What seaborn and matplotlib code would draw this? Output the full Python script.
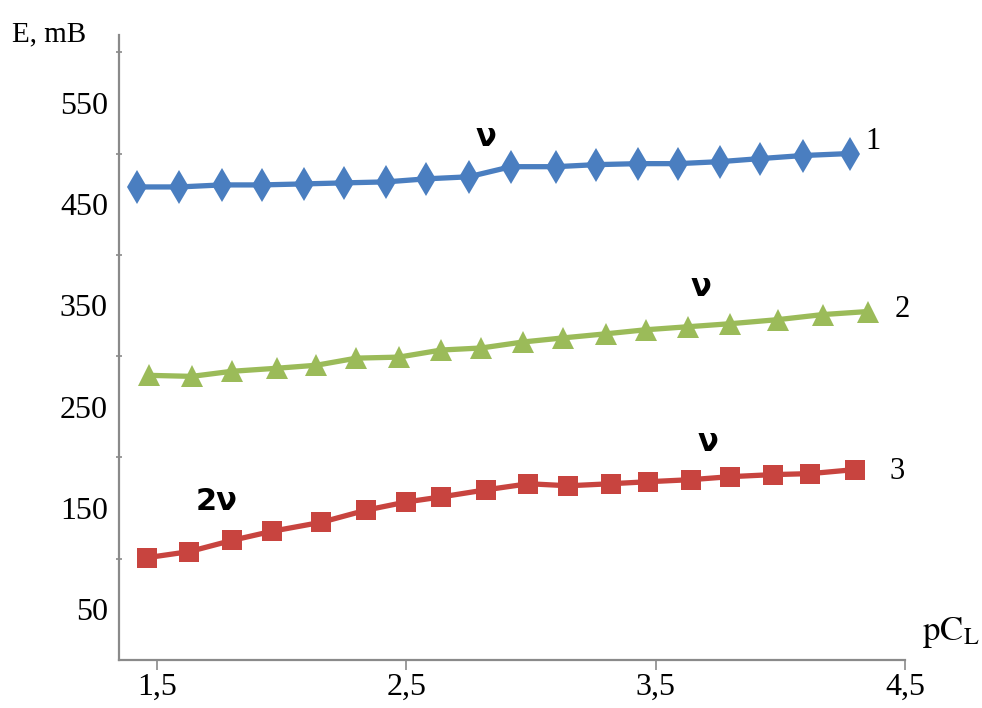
import matplotlib
matplotlib.use("Agg")
import matplotlib.pyplot as plt
import seaborn as sns
import pandas as pd

# ---- data ----
x1 = [1.42, 1.59, 1.76, 1.92, 2.09, 2.25, 2.42, 2.58, 2.75, 2.92,
      3.10, 3.26, 3.43, 3.59, 3.76, 3.92, 4.09, 4.28]
e1 = [467, 467, 469, 469, 470, 471, 472, 475, 477, 487,
      487, 489, 490, 490, 492, 495, 498, 500]

x2 = [1.47, 1.64, 1.80, 1.98, 2.14, 2.30, 2.47, 2.64, 2.80, 2.97,
      3.13, 3.30, 3.46, 3.63, 3.80, 3.99, 4.17, 4.35]
e2 = [281, 280, 285, 288, 291, 298, 299, 306, 308, 314,
      318, 322, 326, 329, 332, 336, 341, 344]

x3 = [1.46, 1.63, 1.80, 1.96, 2.16, 2.34, 2.50, 2.64, 2.82, 2.99,
      3.15, 3.32, 3.47, 3.64, 3.80, 3.97, 4.12, 4.30]
e3 = [101, 107, 118, 127, 136, 148, 156, 161, 168, 174,
      172, 174, 176, 178, 181, 183, 184, 188]

series_names = ["1", "2", "3"]
x_ticks = [1.5, 2.5, 3.5, 4.5]
x_tick_labels = ["1,5", "2,5", "3,5", "4,5"]
y_label_vals = [50, 150, 250, 350, 450, 550]
y_tick_marks = [100, 200, 300, 400, 500, 600]

df = pd.concat([
    pd.DataFrame({"pCL": x1, "E": e1, "curve": series_names[0]}),
    pd.DataFrame({"pCL": x2, "E": e2, "curve": series_names[1]}),
    pd.DataFrame({"pCL": x3, "E": e3, "curve": series_names[2]}),
], ignore_index=True)

sns.set_style("white")
plt.rcParams["font.family"] = ["Liberation Serif", "DejaVu Serif"]
plt.rcParams["mathtext.fontset"] = "stix"
plt.rcParams["text.color"] = "black"
plt.rcParams["xtick.labelcolor"] = "black"
plt.rcParams["ytick.labelcolor"] = "black"

fig = plt.figure(figsize=(9.82, 7.08), dpi=100)
ax = fig.add_axes([119 / 982, 1 - 660 / 708, (905 - 119) / 982, (660 - 35) / 708])

colors = {"1": "#4A7EC0", "2": "#9BBB59", "3": "#C8443F"}
markers = {"1": "d", "2": "^", "3": "s"}
msizes = {"1": 17, "2": 16, "3": 15}

for name in series_names:
    sub = df[df["curve"] == name]
    sns.lineplot(data=sub, x="pCL", y="E", ax=ax, color=colors[name],
                 marker=markers[name], markersize=msizes[name],
                 markeredgewidth=0, linewidth=3.8, legend=False,
                 estimator=None, sort=False, clip_on=False)

ax.set_xlim(1.348, 4.5)
ax.set_ylim(0, 617)

ax.set_xticks(x_ticks, labels=x_tick_labels)
ax.set_yticks(y_tick_marks, labels=[""] * len(y_tick_marks))
ax.set_yticks(y_label_vals, labels=[str(v) for v in y_label_vals], minor=True)

ax.tick_params(axis="x", which="major", direction="out", length=7, width=1.2,
               color="#8a8a8a", labelsize=23, pad=2, bottom=True)
ax.tick_params(axis="y", which="major", direction="inout", length=4, width=1.2,
               color="#8a8a8a", left=True)
ax.tick_params(axis="y", which="minor", length=0, labelsize=23, pad=8, left=True)

for s in ["top", "right"]:
    ax.spines[s].set_visible(False)
for s in ["left", "bottom"]:
    ax.spines[s].set_color("#8a8a8a")
    ax.spines[s].set_linewidth(1.6)

ax.set_xlabel("")
ax.set_ylabel("")

# curve numbers
ax.text(4.37, 512, "1", fontsize=22, ha="center", va="center")
ax.text(4.49, 346, "2", fontsize=22, ha="center", va="center", clip_on=False)
ax.text(4.47, 186, "3", fontsize=22, ha="center", va="center", clip_on=False)

# nu annotations
nu_kw = dict(fontsize=22, fontweight="bold", ha="center", va="center",
             family=["DejaVu Sans"])
ax.text(2.82, 516, "ν", **nu_kw)
ax.text(3.68, 368, "ν", **nu_kw)
ax.text(3.71, 215, "ν", **nu_kw)
ax.text(1.74, 156, "2ν", **nu_kw)

# axis titles
fig.text(12 / 982, 1 - 47 / 708, "E, mB", fontsize=21, ha="left", va="bottom")
fig.text(922 / 982, 1 - 650 / 708, r"$\mathrm{pC_L}$", fontsize=25,
         ha="left", va="bottom")

fig.savefig("out.png", dpi=100, facecolor="white")
